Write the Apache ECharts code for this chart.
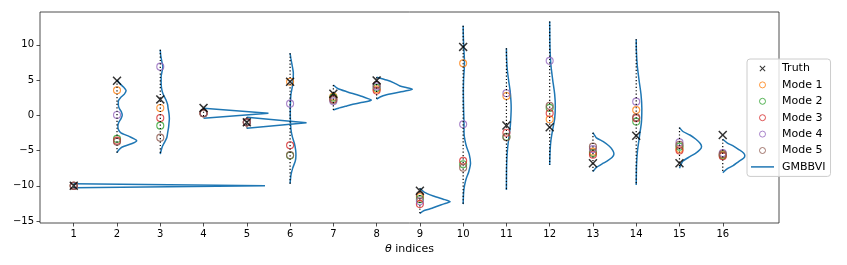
<!DOCTYPE html>
<html><head><meta charset="utf-8">
<script src="https://cdn.jsdelivr.net/npm/echarts@6/dist/echarts.min.js"></script>
<style>html,body{margin:0;padding:0;background:#fff}#c{width:847px;height:265px}</style>
</head><body><div id="c"></div>
<script>
const categories = [1,2,3,4,5,6,7,8,9,10,11,12,13,14,15,16];
const yTicks = [-15,-10,-5,0,5,10];
const truth = [-10.0, 4.9, 2.25, 1.05, -1.0, 4.75, 3.05, 4.95, -10.7, 9.7, -1.45, -1.7, -6.8, -2.9, -6.8, -2.8];
const mode1 = [-10.0, 3.55, 1.04, 0.3, -1.0, 4.75, 2.64, 3.7, -11.6, 7.38, 2.74, -0.57, -5.16, 0.75, -4.78, -5.6];
const mode2 = [-10.0, -3.35, -1.47, 0.3, -1.0, -5.7, 2.5, 3.9, -11.9, -6.95, -3.05, 1.05, -5.35, -0.9, -4.45, -5.7];
const mode3 = [-10.0, -3.6, -0.38, 0.28, -1.0, -4.25, 2.3, 3.5, -12.6, -6.45, -2.47, 0.28, -5.6, -0.43, -5.0, -5.8];
const mode4 = [-10.0, 0.05, 6.9, 0.3, -1.0, 1.65, 2.0, 4.1, -12.2, -1.28, 3.12, 7.72, -4.8, 1.93, -3.85, -5.35];
const mode5 = [-10.0, -3.75, -3.17, 0.3, -1.0, -5.65, 2.17, 4.3, -11.3, -7.43, -3.1, 1.35, -4.45, -0.28, -4.2, -5.5];

// GMBBVI density curves: [theta value, density width in x-axis units]
const gmbbvi_1 = [[-9.7,0],[-10.0,4.42],[-10.27,0]];
const gmbbvi_2 = [[5.0,0],[4.6,0.05],[4.0,0.15],[3.5,0.21],[3.0,0.17],[2.5,0.08],[2.0,0.03],[1.5,0.03],[1.0,0.05],[0.5,0.1],[0.0,0.12],[-0.5,0.09],[-1.0,0.04],[-1.5,0.02],[-2.0,0.03],[-2.5,0.09],[-3.0,0.28],[-3.6,0.455],[-4.0,0.35],[-4.5,0.12],[-5.0,0.03],[-5.3,0]];
const gmbbvi_3 = [[9.3,0],[8.5,0.01],[7.5,0.04],[6.9,0.06],[6.2,0.04],[5.5,0.02],[4.5,0.02],[3.5,0.04],[2.8,0.08],[2.2,0.13],[1.5,0.17],[1.0,0.18],[0.3,0.2],[-0.5,0.21],[-1.2,0.2],[-1.8,0.19],[-2.5,0.17],[-3.2,0.15],[-3.8,0.1],[-4.4,0.05],[-5.0,0.02],[-5.5,0]];
const gmbbvi_4 = [[1.0,0],[0.28,1.5],[-0.43,0]];
const gmbbvi_5 = [[-0.28,0],[-1.05,1.38],[-1.84,0]];
const gmbbvi_6 = [[8.8,0],[8.0,0.02],[7.0,0.05],[6.0,0.075],[5.0,0.07],[4.0,0.05],[3.0,0.02],[2.0,0.01],[1.0,0.005],[0.0,0.005],[-1.0,0.01],[-2.0,0.02],[-3.0,0.05],[-4.0,0.1],[-5.0,0.13],[-5.7,0.135],[-6.5,0.12],[-7.5,0.06],[-8.5,0.02],[-9.7,0]];
const gmbbvi_7 = [[4.3,0],[3.8,0.1],[3.35,0.31],[2.8,0.6],[2.36,0.8],[2.17,0.88],[1.95,0.78],[1.79,0.62],[1.55,0.45],[1.32,0.31],[1.0,0.12],[0.75,0]];
const gmbbvi_8 = [[5.4,0],[5.0,0.23],[4.6,0.4],[4.15,0.54],[3.9,0.7],[3.69,0.825],[3.5,0.72],[3.3,0.54],[2.9,0.23],[2.6,0.08],[2.3,0]];
const gmbbvi_9 = [[-10.35,0],[-10.9,0.1],[-11.45,0.31],[-11.9,0.54],[-12.25,0.7],[-12.6,0.54],[-12.9,0.4],[-13.2,0.28],[-13.5,0.1],[-13.9,0]];
const gmbbvi_10 = [[12.7,0],[11.0,0.005],[9.5,0.015],[8.5,0.025],[7.5,0.03],[6.5,0.025],[5.0,0.01],[3.0,0.005],[1.0,0.01],[0.0,0.015],[-1.3,0.02],[-2.5,0.02],[-3.5,0.04],[-4.5,0.08],[-5.5,0.14],[-6.8,0.17],[-8.0,0.13],[-9.0,0.07],[-10.0,0.03],[-11.0,0.01],[-12.6,0]];
const gmbbvi_11 = [[9.5,0],[8.0,0.005],[6.5,0.02],[5.0,0.05],[3.5,0.085],[2.0,0.105],[1.0,0.11],[0.0,0.105],[-1.5,0.09],[-3.0,0.06],[-4.5,0.03],[-6.0,0.012],[-8.0,0.003],[-10.6,0]];
const gmbbvi_12 = [[13.3,0],[11.0,0.003],[9.0,0.01],[7.0,0.03],[5.0,0.07],[3.0,0.115],[1.2,0.13],[-0.5,0.115],[-2.0,0.07],[-3.5,0.03],[-5.0,0.01],[-7.05,0]];
const gmbbvi_13 = [[-2.47,0],[-3.2,0.08],[-3.74,0.24],[-4.4,0.38],[-5.0,0.46],[-5.49,0.485],[-6.0,0.44],[-6.4,0.35],[-6.8,0.24],[-7.4,0.08],[-8.0,0]];
const gmbbvi_14 = [[10.8,0],[9.0,0.005],[7.0,0.025],[5.0,0.065],[3.0,0.11],[1.0,0.13],[-1.0,0.12],[-3.0,0.075],[-5.0,0.03],[-7.0,0.008],[-9.9,0]];
const gmbbvi_15 = [[-1.75,0],[-2.3,0.08],[-2.8,0.24],[-3.4,0.38],[-4.0,0.48],[-4.45,0.51],[-4.9,0.47],[-5.4,0.37],[-5.87,0.24],[-6.5,0.08],[-7.52,0]];
const gmbbvi_16 = [[-3.4,0],[-3.9,0.1],[-4.35,0.24],[-4.9,0.38],[-5.35,0.48],[-5.73,0.51],[-6.1,0.48],[-6.6,0.36],[-7.15,0.24],[-7.6,0.1],[-8.14,0]];
const curves = [gmbbvi_1,gmbbvi_2,gmbbvi_3,gmbbvi_4,gmbbvi_5,gmbbvi_6,gmbbvi_7,gmbbvi_8,gmbbvi_9,gmbbvi_10,gmbbvi_11,gmbbvi_12,gmbbvi_13,gmbbvi_14,gmbbvi_15,gmbbvi_16];

const FONT = 'DejaVu Sans';
const modeColors = ['#ff7f0e','#2ca02c','#d62728','#9467bd','#8c564b'];
const modes = [mode1, mode2, mode3, mode4, mode5];
const crossPath = 'path://M0,1.2 L1.2,0 L5,3.8 L8.8,0 L10,1.2 L6.2,5 L10,8.8 L8.8,10 L5,6.2 L1.2,10 L0,8.8 L3.8,5 Z';

const series = [];
curves.forEach((c, k) => {
  const xi = categories[k];
  series.push({
    name: 'GMBBVI', type: 'line', symbol: 'none', showSymbol: false, z: 2, silent: true,
    smooth: c.length > 3 ? 0.2 : false,
    lineStyle: { color: '#1f77b4', width: 1.5 },
    itemStyle: { color: '#1f77b4' },
    data: c.map(p => [xi + p[1], p[0]])
  });
});
// dotted baselines: [x, top of curve, bottom of curve]
series.push({
  type: 'custom', z: 4, silent: true,
  data: curves.map((c, k) => [categories[k], c[0][0], c[c.length - 1][0]]),
  encode: { x: 0, y: [1, 2] },
  renderItem: function (params, api) {
    const p1 = api.coord([api.value(0), api.value(1)]);
    const p2 = api.coord([api.value(0), api.value(2)]);
    return {
      type: 'line',
      shape: { x1: p1[0], y1: p1[1], x2: p2[0], y2: p2[1] },
      style: { stroke: '#000', lineWidth: 1.2, lineDash: [1.2, 2.2], fill: null }
    };
  }
});
modes.forEach((m, j) => {
  series.push({
    name: 'Mode ' + (j + 1), type: 'scatter', symbol: 'circle', symbolSize: 7, z: 3,
    itemStyle: { color: 'rgba(255,255,255,0)', borderColor: modeColors[j], borderWidth: 1.1 },
    data: categories.map((c, k) => [c, m[k]])
  });
});
series.push({
  name: 'Truth', type: 'scatter', symbol: crossPath, symbolSize: 9, z: 5,
  itemStyle: { color: '#000' },
  data: categories.map((c, k) => [c, truth[k]])
});

const legendModeItems = [1,2,3,4,5].map(j => ({ name: 'Mode ' + j, icon: 'circle',
  itemStyle: { color: 'rgba(255,255,255,0)', borderColor: modeColors[j - 1], borderWidth: 1 } }));

const chart = echarts.init(document.getElementById('c'), null, { renderer: 'canvas' });
chart.setOption({
  animation: false,
  backgroundColor: '#fff',
  textStyle: { fontFamily: FONT },
  grid: { left: 40, top: 12, right: 68, bottom: 42, show: true, borderColor: '#222', borderWidth: 0.8, containLabel: false },
  xAxis: {
    type: 'value', min: 0.22, max: 17.3, position: 'bottom',
    name: '{i|θ} indices', nameLocation: 'middle', nameGap: 18,
    nameTextStyle: { fontFamily: FONT, fontSize: 11, color: '#000',
      rich: { i: { fontFamily: FONT, fontStyle: 'italic', fontSize: 11, color: '#000' } } },
    axisLine: { show: false, onZero: false },
    splitLine: { show: false },
    axisTick: { show: true, inside: false, length: 3.5, lineStyle: { color: '#222', width: 0.8 }, customValues: categories },
    axisLabel: { show: true, margin: 6, color: '#000', fontSize: 10, fontFamily: FONT, customValues: categories,
      formatter: v => String(v) }
  },
  yAxis: {
    type: 'value', min: -15.28, max: 14.65, position: 'left',
    axisLine: { show: false, onZero: false },
    splitLine: { show: false },
    axisTick: { show: true, inside: false, length: 3.5, lineStyle: { color: '#222', width: 0.8 }, customValues: yTicks },
    axisLabel: { show: true, margin: 6, color: '#000', fontSize: 10, fontFamily: FONT, customValues: yTicks,
      formatter: v => String(v).replace('-', '\u2212') }
  },
  legend: {
    orient: 'vertical', left: 747, top: 59,
    padding: [4, 5, 4, 4],
    itemWidth: 23, itemHeight: 6, itemGap: 5.4,
    symbolKeepAspect: true,
    backgroundColor: 'rgba(255,255,255,0.8)', borderColor: '#cccccc', borderWidth: 1, borderRadius: 3,
    textStyle: { fontFamily: FONT, fontSize: 11, color: '#000', padding: [0, 0, 0, 3] },
    data: [
      { name: 'Truth', icon: crossPath, itemStyle: { color: '#000', borderWidth: 0 } }
    ].concat(legendModeItems).concat([
      { name: 'GMBBVI', icon: 'path://M0,0 L23,0 L23,1.5 L0,1.5 Z', itemStyle: { color: '#1f77b4', borderWidth: 0 } }
    ])
  },
  series: series
});
</script>
</body></html>
